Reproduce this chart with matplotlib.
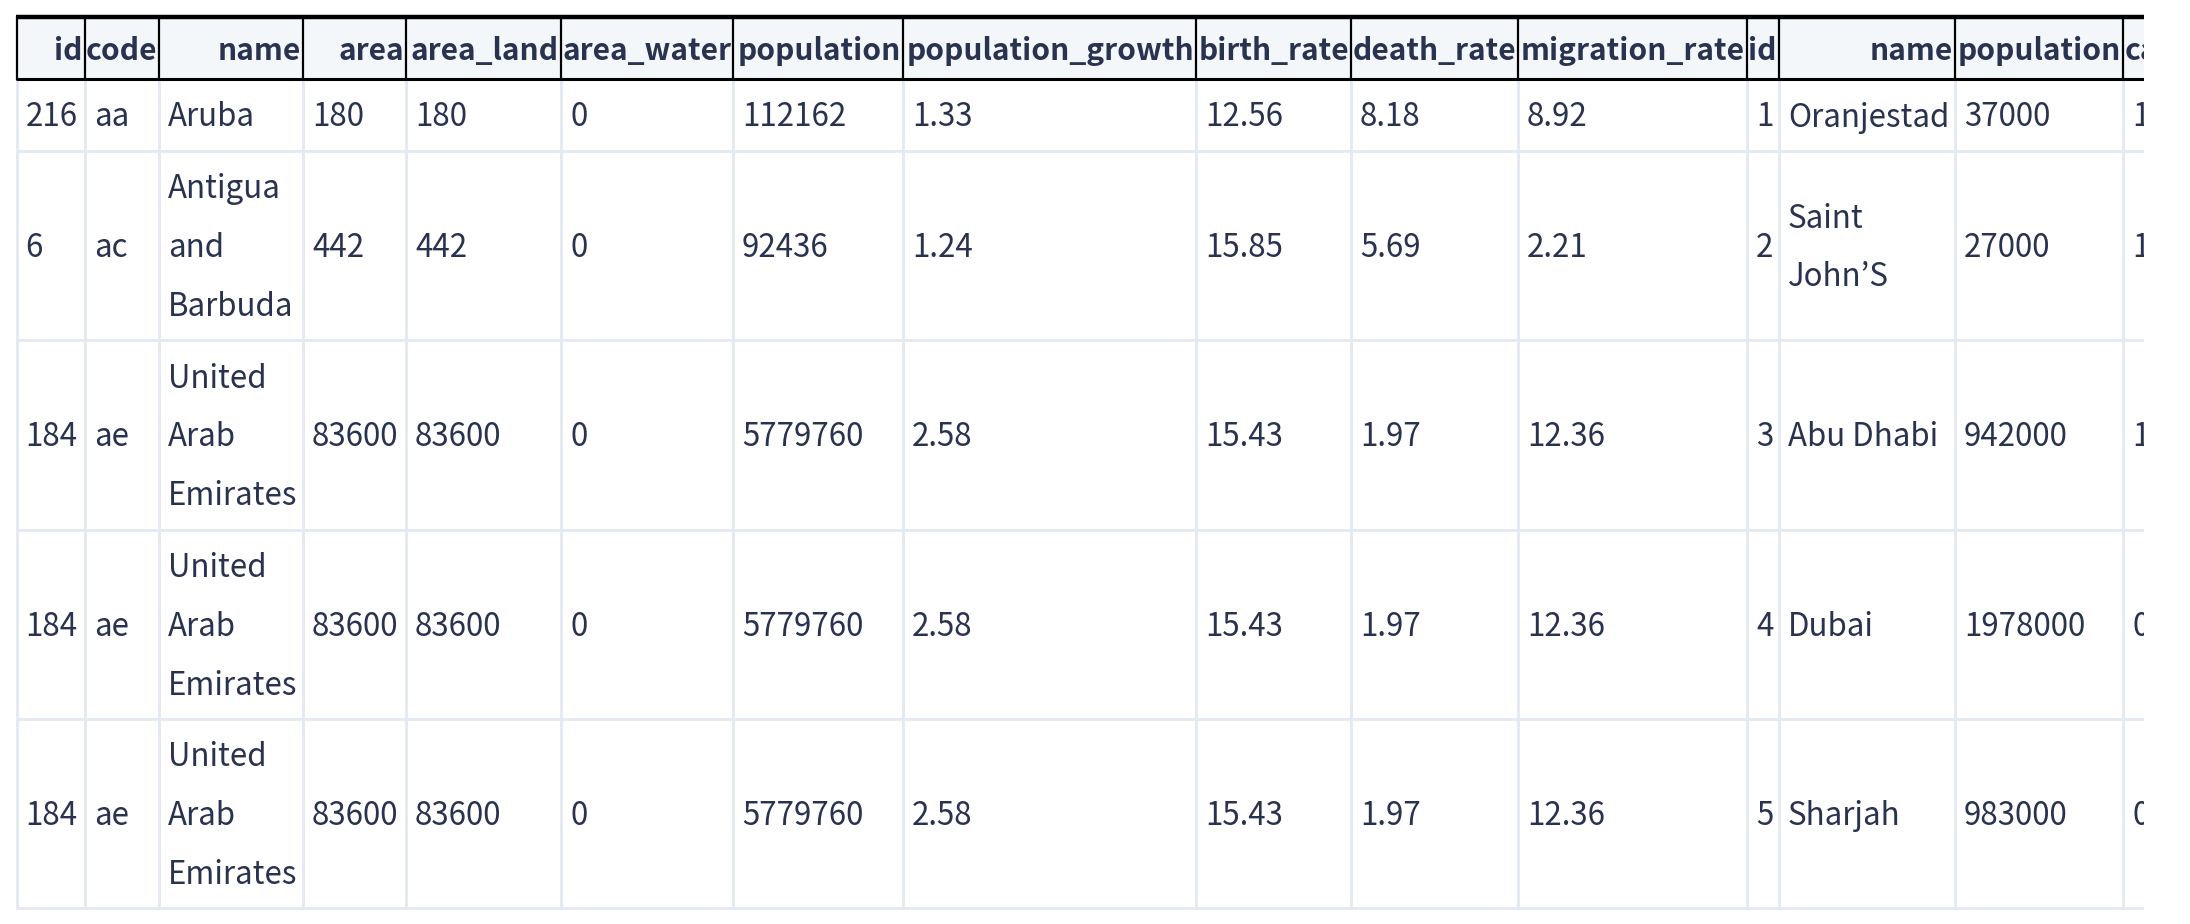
import matplotlib
matplotlib.use('Agg')
import matplotlib.pyplot as plt
from matplotlib.patches import Rectangle

plt.rcParams['font.family'] = ['Noto Sans CJK JP', 'DejaVu Sans']

# data (joined countries + cities table)
headers = ['id', 'code', 'name', 'area', 'area_land', 'area_water', 'population',
           'population_growth', 'birth_rate', 'death_rate', 'migration_rate',
           'id', 'name', 'population', 'capital']
country_id = [216, 6, 184, 184, 184]
country_code = ['aa', 'ac', 'ae', 'ae', 'ae']
country_name = ['Aruba', 'Antigua\nand\nBarbuda', 'United\nArab\nEmirates',
                'United\nArab\nEmirates', 'United\nArab\nEmirates']
area = [180, 442, 83600, 83600, 83600]
area_land = [180, 442, 83600, 83600, 83600]
area_water = [0, 0, 0, 0, 0]
population = [112162, 92436, 5779760, 5779760, 5779760]
population_growth = [1.33, 1.24, 2.58, 2.58, 2.58]
birth_rate = [12.56, 15.85, 15.43, 15.43, 15.43]
death_rate = [8.18, 5.69, 1.97, 1.97, 1.97]
migration_rate = [8.92, 2.21, 12.36, 12.36, 12.36]
city_id = [1, 2, 3, 4, 5]
city_name = ['Oranjestad', 'Saint\nJohn’S', 'Abu Dhabi', 'Dubai', 'Sharjah']
city_population = [37000, 27000, 942000, 1978000, 983000]
capital = [1, 1, 1, 0, 0]

columns = [country_id, country_code, country_name, area, area_land, area_water,
           population, population_growth, birth_rate, death_rate, migration_rate,
           city_id, city_name, city_population, capital]

# layout in pixels (figure 2190 x 924)
col_edges = [16.7, 85, 159, 303, 406, 561, 733, 903, 1196, 1351, 1518,
             1747, 1779, 1955, 2123, 2320]
row_edges = [17, 79, 151, 340, 530, 719, 908]
clip_x = 2144
line_gap = 58.7

text_col = '#29324f'
grid_col = '#e3e9f0'
head_bg = '#f4f7fa'

fig = plt.figure(figsize=(21.9, 9.24), dpi=100)
ax = fig.add_axes([0, 0, clip_x / 2190, 1])
ax.set_xlim(0, clip_x)
ax.set_ylim(924, 0)
ax.axis('off')

# header background
ax.add_patch(Rectangle((col_edges[0], row_edges[0]), clip_x - col_edges[0],
                       row_edges[1] - row_edges[0], facecolor=head_bg,
                       edgecolor='none', zorder=0))

# body grid
for y in row_edges[2:]:
    ax.plot([col_edges[0], clip_x], [y, y], color=grid_col, lw=2, zorder=1,
            solid_capstyle='butt')
for x in col_edges[:-1]:
    ax.plot([x, x], [row_edges[1], row_edges[-1]], color=grid_col, lw=2, zorder=1)

# header borders
for x in col_edges[:-1]:
    ax.plot([x, x], [row_edges[0], row_edges[1]], color='black', lw=1.6, zorder=3)
ax.plot([col_edges[0] - 1, clip_x], [row_edges[1], row_edges[1]], color='black',
        lw=2.2, zorder=3, solid_capstyle='butt')
ax.plot([col_edges[0] - 1, clip_x], [row_edges[0], row_edges[0]], color='black',
        lw=3.2, zorder=3, solid_capstyle='butt')

fs = 22.5
hfs = 21.6

# header text (right aligned)
hy = (row_edges[0] + row_edges[1]) / 2 + 12
for j, h in enumerate(headers):
    if j == len(headers) - 1:
        ax.text(col_edges[j] + 2, hy, h, ha='left', va='baseline', fontsize=hfs,
                fontweight='bold', color=text_col, zorder=4, clip_on=True)
    else:
        ax.text(col_edges[j + 1] - 2, hy, h, ha='right', va='baseline', fontsize=hfs,
                fontweight='bold', color=text_col, zorder=4, clip_on=True)

# body text (left aligned, vertically centered)
for j, col in enumerate(columns):
    for i, v in enumerate(col):
        lines = str(v).split('\n')
        cy = (row_edges[i + 1] + row_edges[i + 2]) / 2
        n = len(lines)
        for k, ln in enumerate(lines):
            y = cy + (k - (n - 1) / 2) * line_gap + 11.5
            ax.text(col_edges[j] + 9, y, ln, ha='left', va='baseline', fontsize=fs,
                    color=text_col, zorder=4, clip_on=True)

plt.savefig('out.png', dpi=100)
